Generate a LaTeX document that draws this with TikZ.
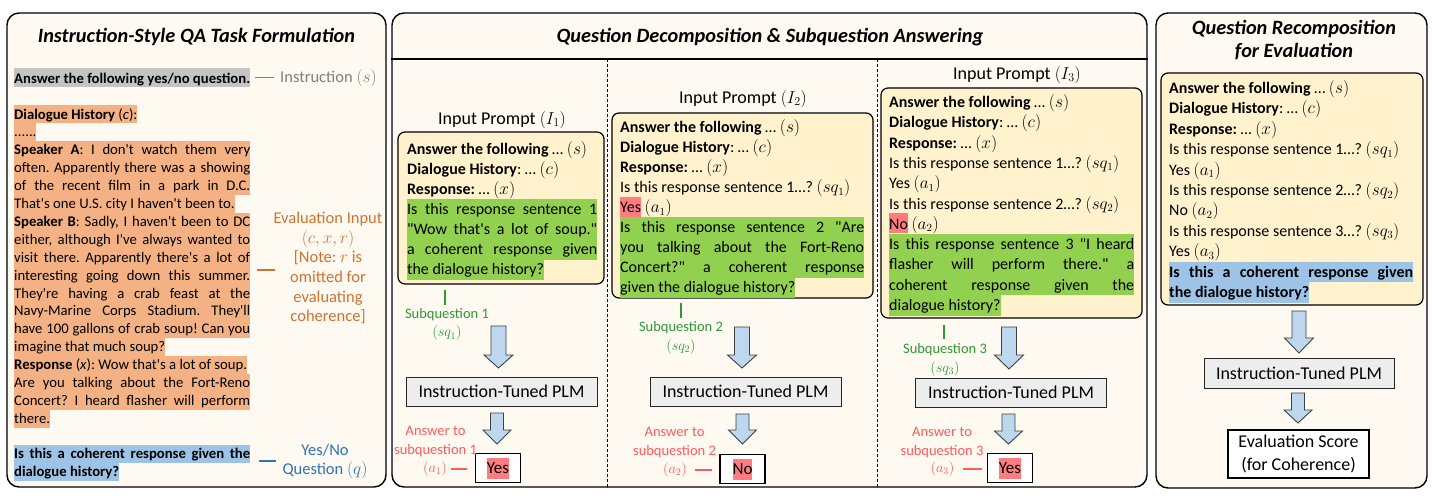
\documentclass[tikz,border=0pt]{standalone}
\usepackage{fontspec}
\setmainfont{Carlito}[Ligatures=TeXOff]
\definecolor{panelbg}{HTML}{FEF9F1}
\definecolor{boxbg}{HTML}{FFF2CC}
\definecolor{hlgreen}{HTML}{92D050}
\definecolor{hlorange}{HTML}{F4B183}
\definecolor{hlgray}{HTML}{C4C4C4}
\definecolor{hlblue}{HTML}{9DC3E6}
\definecolor{hlpink}{HTML}{FF7C80}
\definecolor{plmbg}{HTML}{EDEDED}
\definecolor{arrowfill}{HTML}{BDD7EE}
\definecolor{arrowline}{HTML}{404040}
\definecolor{txtgreen}{HTML}{2F9A35}
\definecolor{txtred}{HTML}{FF5B5B}
\definecolor{txtorange}{HTML}{CF7330}
\definecolor{txtblue}{HTML}{2E75B6}
\definecolor{txtgray}{HTML}{7F7F7F}
\newcommand\JL[2]{\makebox[#1pt][s]{#2}}
\newcommand\HLp[1]{{\setlength\fboxsep{0pt}\colorbox{hlpink}{\rule[-4pt]{0pt}{20pt}#1}}}
\newcommand\HLa[1]{{\setlength\fboxsep{0pt}\colorbox{hlpink}{\rule[-5pt]{0pt}{21pt}#1}}}
\newcommand\BlkArr[6]{\draw[barrow] ({#1-#5},#2) -- ({#1+#5},#2) -- ({#1+#5},#3) -- ({#1+#6},#3) -- (#1,#4) -- ({#1-#6},#3) -- ({#1-#5},#3) -- cycle;}
\frenchspacing
\begin{document}
\begin{tikzpicture}[x=1pt,y=-1pt,
 panel/.style={draw=black, line width=1.4pt, rounded corners=12pt, fill=panelbg, inner sep=0pt},
 pbox/.style={draw=black, line width=1.2pt, rounded corners=7pt, fill=boxbg, inner sep=0pt},
 lA/.style={anchor=base west, inner sep=0pt, font=\fontsize{14.7}{17.9}\selectfont, text height=13.6pt, text depth=4.4pt},
 lB/.style={anchor=base west, inner sep=0pt, font=\fontsize{16}{20}\selectfont, text height=15.2pt, text depth=5.2pt},
 plm/.style={draw=black!85, line width=1pt, fill=plmbg, minimum width=191pt, minimum height=29pt, inner sep=0pt, font=\fontsize{18}{22}\selectfont},
 ans/.style={draw=black, line width=1.1pt, fill=white, minimum width=45pt, minimum height=29pt, inner sep=0pt, font=\fontsize{17}{20}\selectfont},
 sublbl/.style={text=txtgreen, align=center, inner sep=0pt, font=\fontsize{14.5}{18.5}\selectfont},
 anslbl/.style={text=txtred, align=center, inner sep=0pt, font=\fontsize{14.5}{18.5}\selectfont},
 sidelbl/.style={align=center, inner sep=0pt, font=\fontsize{16.5}{19.6}\selectfont},
 ttl/.style={align=center, inner sep=0pt, font=\fontsize{20.3}{23}\selectfont\bfseries\itshape},
 hdr/.style={inner sep=0pt, font=\fontsize{18}{22}\selectfont},
 barrow/.style={fill=arrowfill, draw=arrowline, line width=0.9pt, line join=miter},
 tick/.style={draw=txtgreen, line width=1.3pt},
 dashln/.style={line width=1.5pt},
]
\useasboundingbox (0,0) rectangle (1433,499);
\fill[white] (0,0) rectangle (1433,499);

% ---------------- panels ----------------
\node[panel, minimum width=379pt, minimum height=474pt] (panA) at (196.5,250) {};
\node[panel, minimum width=755pt, minimum height=474pt] (panB) at (769.5,250) {};
\node[panel, minimum width=271pt, minimum height=475pt] (panC) at (1291.5,250.5) {};

\node[ttl] (tA) at (196.5,37) {Instruction-Style QA Task Formulation};
\node[ttl] (tB) at (770,37) {Question Decomposition \& Subquestion Answering};
\node[ttl] (tC) at (1294,40.5) {Question Recomposition\\for Evaluation};

\coordinate (hy) at (0,59);
\draw[line width=1.2pt] (panB.west |- hy) -- (panB.east |- hy);
\coordinate (d1t) at (607,59); \coordinate (d1b) at (607,487);
\coordinate (d2t) at (877,59); \coordinate (d2b) at (877,487);
\draw[dash pattern=on 3pt off 2pt, line width=0.9pt] (d1t) -- (d1b);
\draw[dash pattern=on 3pt off 2pt, line width=0.9pt] (d2t) -- (d2b);

% ---------------- panel A text ----------------
\node[lA,fill=hlgray,text height=15pt,text depth=4pt] (ins) at (14,83) {\textbf{Answer the following yes/no question.}};
\node[lA,fill=hlorange] (o0) at (14,119) {\textbf{Dialogue History} (\textit{c}):};
\node[lA,fill=hlorange] (o1) at (14,136.9) {......};
\node[lA,fill=hlorange] (o2) at (14,154.8) {\JL{236}{\textbf{Speaker A}: I don't watch them very}};
\node[lA,fill=hlorange] (o3) at (14,172.7) {\JL{236}{often. Apparently there was a showing}};
\node[lA,fill=hlorange] (o4) at (14,190.6) {\JL{236}{of the recent film in a park in D.C.}};
\node[lA,fill=hlorange] (o5) at (14,208.5) {That's one U.S. city I haven't been to.};
\node[lA,fill=hlorange] (o6) at (14,226.4) {\JL{236}{\textbf{Speaker B}: Sadly, I haven't been to DC}};
\node[lA,fill=hlorange] (o7) at (14,244.3) {\JL{236}{either, although I've always wanted to}};
\node[lA,fill=hlorange] (o8) at (14,262.2) {\JL{236}{visit there. Apparently there's a lot of}};
\node[lA,fill=hlorange] (o9) at (14,280.1) {\JL{236}{interesting going down this summer.}};
\node[lA,fill=hlorange] (o10) at (14,298) {\JL{236}{They're having a crab feast at the}};
\node[lA,fill=hlorange] (o11) at (14,315.9) {\JL{236}{Navy-Marine Corps Stadium. They'll}};
\node[lA,fill=hlorange] (o12) at (14,333.8) {\JL{236}{have 100 gallons of crab soup! Can you}};
\node[lA,fill=hlorange] (o13) at (14,351.7) {imagine that much soup?};
\node[lA,fill=hlorange] (o14) at (14,369.6) {\textbf{Response} (\textit{x}): Wow that's a lot of soup.};
\node[lA,fill=hlorange] (o15) at (14,387.5) {\JL{236}{Are you talking about the Fort-Reno}};
\node[lA,fill=hlorange] (o16) at (14,405.4) {\JL{236}{Concert? I heard flasher will perform}};
\node[lA,fill=hlorange] (o17) at (14,423.3) {there.};
\node[lA,fill=hlblue] (q0) at (14,458.5) {\JL{236}{\textbf{Is this a coherent response given the}}};
\node[lA,fill=hlblue] (q1) at (14,476.5) {\textbf{dialogue history?}};

\node[sidelbl, anchor=base west, text=txtgray] (insl) at (280,82) {Instruction $(s)$};
\draw[dashln, draw=txtgray, shorten <=5pt, shorten >=6pt] (ins.east) -- (ins.east -| insl.west);
\node[sidelbl, text=txtorange] (evl) at (328,268) {Evaluation Input\\$(c,x,r)$\\{[}Note: $r$ is\\omitted for\\evaluating\\coherence{]}};
\coordinate (e1) at (257,270); \coordinate (e2) at (275,270);
\draw[dashln, draw=txtorange] (e1) -- (e2);
\node[sidelbl, text=txtblue] (ynl) at (325,461.5) {Yes/No\\Question $(q)$};
\coordinate (b1) at (259,461); \coordinate (b2) at (276,461);
\draw[dashln, draw=txtblue] (b1) -- (b2);

% ---------------- column 1 ----------------
\node[hdr] (ip1) at (502,120) {Input Prompt $(I_1)$};
\node[pbox, minimum width=206pt, minimum height=152pt] (P1) at (501,208) {};
\node[lB] (a0) at (407,154.5) {\textbf{Answer the following} … $(s)$};
\node[lB] (a1) at (407,174.5) {\textbf{Dialogue History}: … $(c)$};
\node[lB] (a2) at (407,194.5) {\textbf{Response:} … $(x)$};
\node[lB,fill=hlgreen] (a3) at (407,214.5) {\JL{190}{Is this response sentence 1}};
\node[lB,fill=hlgreen] (a4) at (407,234.5) {\JL{190}{"Wow that's a lot of soup."}};
\node[lB,fill=hlgreen] (a5) at (407,254.5) {\JL{190}{a coherent response given}};
\node[lB,fill=hlgreen] (a6) at (407,274.5) {the dialogue history?};

\coordinate (t1a) at (445,290); \coordinate (t1b) at (445,305);
\draw[tick] (t1a) -- (t1b);
\node[sublbl] (sq1) at (447,324.5) {Subquestion 1\\$(sq_1)$};
\BlkArr{498.5}{326}{355}{368}{7.5}{14.5}
\node[plm] (plm1) at (501.5,391.5) {Instruction-Tuned PLM};
\BlkArr{497}{413}{430}{444}{6.5}{14}
\node[ans] (y1) at (498,468) {\HLa{Yes}};
\node[anslbl] (al1) at (435.5,441.5) {Answer to\\subquestion 1};
\node[anslbl] (av1) at (435,469) {$(a_1)$};
\draw[dashln, draw=txtred, shorten <=4pt, shorten >=8pt] (av1.east) -- (av1.east -| y1.west);

% ---------------- column 2 ----------------
\node[hdr] (ip2) at (743,99) {Input Prompt $(I_2)$};
\node[pbox, minimum width=261pt, minimum height=185pt] (P2) at (742.5,205.5) {};
\node[lB] (b0) at (620,132.5) {\textbf{Answer the following} … $(s)$};
\node[lB] (b1) at (620,152.5) {\textbf{Dialogue History}: … $(c)$};
\node[lB] (b2) at (620,172.5) {\textbf{Response:} … $(x)$};
\node[lB] (b3) at (620,192.5) {Is this response sentence 1…? $(sq_1)$};
\node[lB] (b4) at (620,212.5) {\HLp{Yes} $(a_1)$};
\node[lB,fill=hlgreen] (b5) at (620,232.5) {\JL{244}{Is this response sentence 2 "Are}};
\node[lB,fill=hlgreen] (b6) at (620,252.5) {\JL{244}{you talking about the Fort-Reno}};
\node[lB,fill=hlgreen] (b7) at (620,272.5) {\JL{244}{Concert?" a coherent response}};
\node[lB,fill=hlgreen] (b8) at (620,292.5) {given the dialogue history?};

\coordinate (t2a) at (681,303); \coordinate (t2b) at (681,318);
\draw[tick] (t2a) -- (t2b);
\node[sublbl] (sq2) at (681,338) {Subquestion 2\\$(sq_2)$};
\BlkArr{742}{327}{355}{368}{7.5}{14.5}
\node[plm] (plm2) at (745.5,391.5) {Instruction-Tuned PLM};
\BlkArr{742.5}{414}{430}{444}{6.5}{14}
\node[ans] (n2) at (742.5,469) {\HLa{No}};
\node[anslbl] (al2) at (674.5,442.5) {Answer to\\subquestion 2};
\node[anslbl] (av2) at (675,470) {$(a_2)$};
\draw[dashln, draw=txtred, shorten <=8pt, shorten >=7pt] (av2.east) -- (av2.east -| n2.west);

% ---------------- column 3 ----------------
\node[hdr] (ip3) at (1017,75) {Input Prompt $(I_3)$};
\node[pbox, minimum width=261pt, minimum height=230pt] (P3) at (1011.5,203) {};
\node[lB] (c0) at (889,107.5) {\textbf{Answer the following} … $(s)$};
\node[lB] (c1) at (889,127.8) {\textbf{Dialogue History}: … $(c)$};
\node[lB] (c2) at (889,148.1) {\textbf{Response:} … $(x)$};
\node[lB] (c3) at (889,168.4) {Is this response sentence 1…? $(sq_1)$};
\node[lB] (c4) at (889,188.7) {Yes $(a_1)$};
\node[lB] (c5) at (889,209) {Is this response sentence 2…? $(sq_2)$};
\node[lB] (c6) at (889,229.3) {\HLp{No} $(a_2)$};
\node[lB,fill=hlgreen] (c7) at (889,249.6) {\JL{245}{Is this response sentence 3 "I heard}};
\node[lB,fill=hlgreen] (c8) at (889,269.9) {\JL{245}{flasher will perform there." a}};
\node[lB,fill=hlgreen] (c9) at (889,290.2) {\JL{245}{coherent response given the}};
\node[lB,fill=hlgreen] (c10) at (889,310.5) {dialogue history?};

\coordinate (t3a) at (944,325); \coordinate (t3b) at (944,339);
\draw[tick] (t3a) -- (t3b);
\node[sublbl] (sq3) at (945,360) {Subquestion 3\\$(sq_3)$};
\BlkArr{1009}{327}{355}{369}{7.5}{14.5}
\node[plm] (plm3) at (1011,392.5) {Instruction-Tuned PLM};
\BlkArr{1008.5}{414}{431}{444}{6.5}{14}
\node[ans] (y3) at (1010,468) {\HLa{Yes}};
\node[anslbl] (al3) at (942,442.5) {Answer to\\subquestion 3};
\node[anslbl] (av3) at (942.5,469) {$(a_3)$};
\draw[dashln, draw=txtred, shorten <=8pt, shorten >=5pt] (av3.east) -- (av3.east -| y3.west);

% ---------------- panel C ----------------
\node[pbox, minimum width=262pt, minimum height=232pt] (P4) at (1292,189) {};
\node[lB] (d0) at (1169,93.5) {\textbf{Answer the following} … $(s)$};
\node[lB] (d1) at (1169,113.9) {\textbf{Dialogue History}: … $(c)$};
\node[lB] (d2) at (1169,134.3) {\textbf{Response:} … $(x)$};
\node[lB] (d3) at (1169,154.7) {Is this response sentence 1…? $(sq_1)$};
\node[lB] (d4) at (1169,175.1) {Yes $(a_1)$};
\node[lB] (d5) at (1169,195.5) {Is this response sentence 2…? $(sq_2)$};
\node[lB] (d6) at (1169,215.9) {No $(a_2)$};
\node[lB] (d7) at (1169,236.3) {Is this response sentence 3…? $(sq_3)$};
\node[lB] (d8) at (1169,256.7) {Yes $(a_3)$};
\node[lB,fill=hlblue] (d9) at (1169,277.1) {\JL{244}{\textbf{Is this a coherent response given}}};
\node[lB,fill=hlblue] (d10) at (1169,297.5) {\textbf{the dialogue history?}};

\BlkArr{1299}{311}{338}{353}{7}{14.5}
\node[plm, minimum width=190pt, minimum height=30pt] (plm4) at (1299,373) {Instruction-Tuned PLM};
\BlkArr{1298}{393}{410}{423}{6.5}{14}
\node[ans, minimum width=141pt, minimum height=48pt, align=center, font=\fontsize{18}{23}\selectfont] (ev) at (1298.5,454) {Evaluation Score\\(for Coherence)};
\end{tikzpicture}
\end{document}
